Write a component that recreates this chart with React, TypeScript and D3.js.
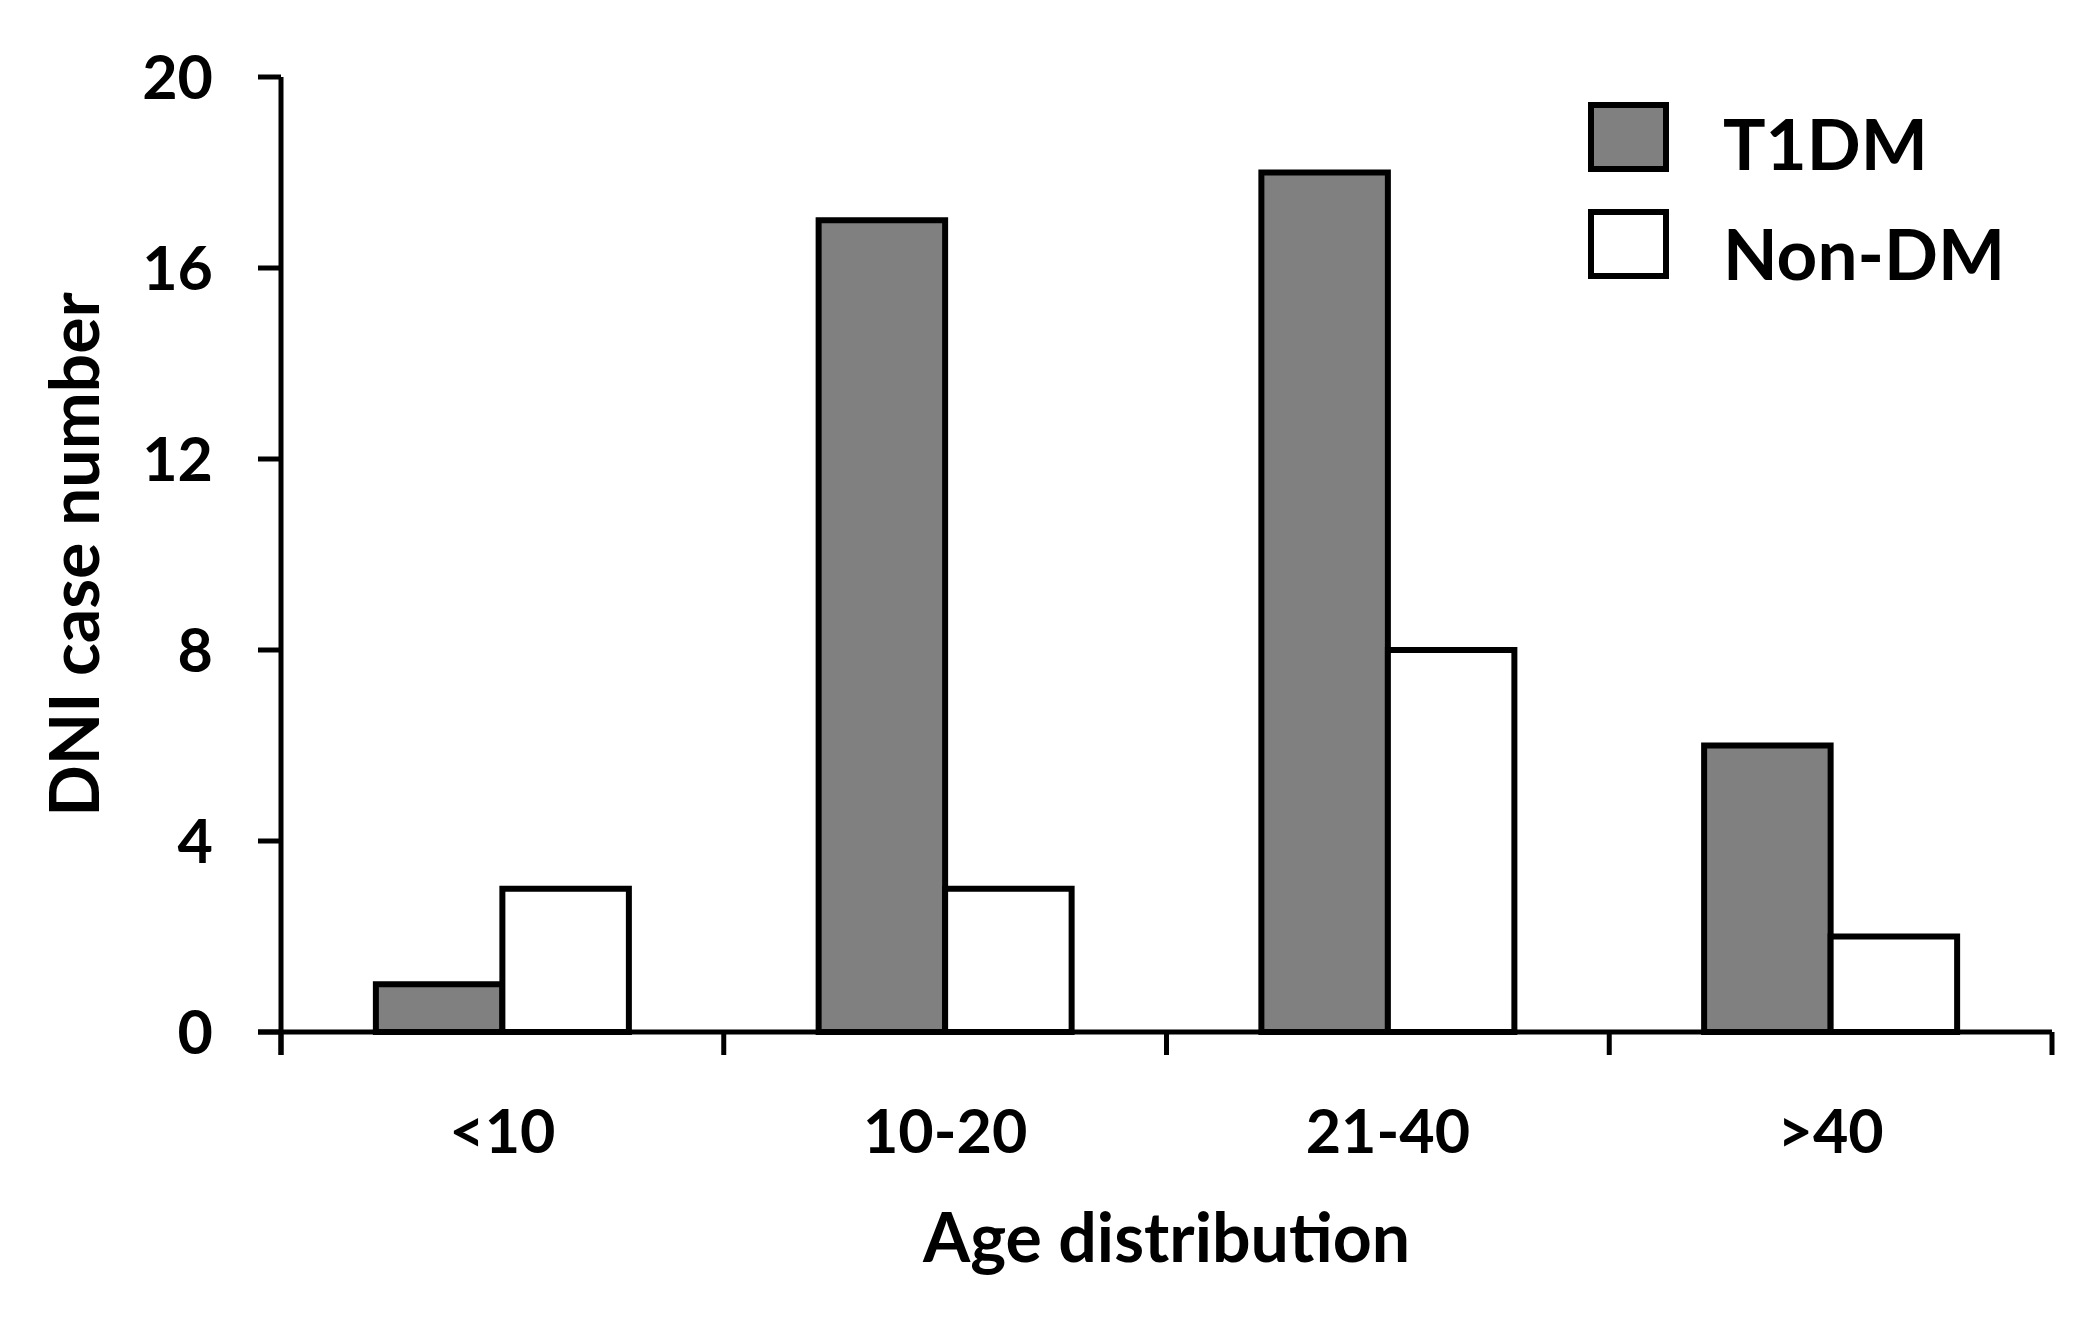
import React from "react";
import * as d3 from "d3";

const categories = ["<10", "10-20", "21-40", ">40"];
const seriesNames = ["T1DM", "Non-DM"];
const t1dmValues = [1, 17, 18, 6];
const nonDmValues = [3, 3, 8, 2];
const yTicks = [0, 4, 8, 12, 16, 20];
const seriesFills = ["#808080", "#ffffff"];

const W = 2092;
const H = 1332;
const FONT = "Lato, 'Open Sans', sans-serif";

export default function App() {
  const left = 281;
  const right = 2052;
  const top = 77;
  const bottom = 1032;

  const x0 = d3.scaleBand<string>().domain(categories).range([left, right]).paddingInner(0).paddingOuter(0);
  const x1 = d3
    .scaleBand<string>()
    .domain(seriesNames)
    .range([0, x0.bandwidth()])
    .paddingInner(0)
    .paddingOuter(0.75);
  const y = d3.scaleLinear().domain([0, 20]).range([bottom, top]);

  const seriesValues = [t1dmValues, nonDmValues];
  const tickLen = 23;
  const axisW = 5;
  const barStroke = 6;

  const boundaries = d3.range(categories.length + 1).map((i) => left + i * x0.step());

  return (
    <svg
      width={W}
      height={H}
      style={{ position: "absolute", left: 0, top: 0, background: "#fff" }}
      fontFamily={FONT}
      fontWeight={700}
    >
      <rect x={0} y={0} width={W} height={H} fill="#fff" />
      {/* bars */}
      {categories.map((c, ci) =>
        seriesNames.map((s, si) => {
          const v = seriesValues[si][ci];
          const bx = (x0(c) ?? 0) + (x1(s) ?? 0);
          return (
            <rect
              key={c + s}
              x={bx}
              y={y(v)}
              width={x1.bandwidth()}
              height={y(0) - y(v)}
              fill={seriesFills[si]}
              stroke="#000"
              strokeWidth={barStroke}
            />
          );
        })
      )}
      {/* y axis */}
      <line x1={left} x2={left} y1={top} y2={bottom + tickLen} stroke="#000" strokeWidth={axisW} />
      {yTicks.map((t) => (
        <g key={t}>
          <line x1={left - tickLen} x2={left} y1={y(t)} y2={y(t)} stroke="#000" strokeWidth={axisW} />
          <text x={213} y={y(t)} dy="0.36em" textAnchor="end" fontSize={61} fill="#000">
            {t}
          </text>
        </g>
      ))}
      {/* x axis */}
      <line x1={left - tickLen} x2={right} y1={bottom} y2={bottom} stroke="#000" strokeWidth={axisW} />
      {boundaries.map((bx, i) => (
        <line key={i} x1={bx} x2={bx} y1={bottom} y2={bottom + tickLen} stroke="#000" strokeWidth={axisW} />
      ))}
      {categories.map((c) => (
        <text key={c} x={(x0(c) ?? 0) + x0.bandwidth() / 2} y={1153} textAnchor="middle" fontSize={61} fill="#000">
          {c}
        </text>
      ))}
      {/* axis titles */}
      <text x={(left + right) / 2} y={1262} textAnchor="middle" fontSize={68} fill="#000">
        Age distribution
      </text>
      <text
        transform={`translate(99, ${(top + bottom) / 2}) rotate(-90)`}
        textAnchor="middle"
        fontSize={68}
        fill="#000"
      >
        DNI case number
      </text>
      {/* legend */}
      {seriesNames.map((s, si) => {
        const ly = 105 + si * 107;
        return (
          <g key={s}>
            <rect x={1591} y={ly} width={75} height={64} fill={seriesFills[si]} stroke="#000" strokeWidth={barStroke} />
            <text x={1723} y={170 + si * 110} fontSize={71} fill="#000">
              {s}
            </text>
          </g>
        );
      })}
    </svg>
  );
}
